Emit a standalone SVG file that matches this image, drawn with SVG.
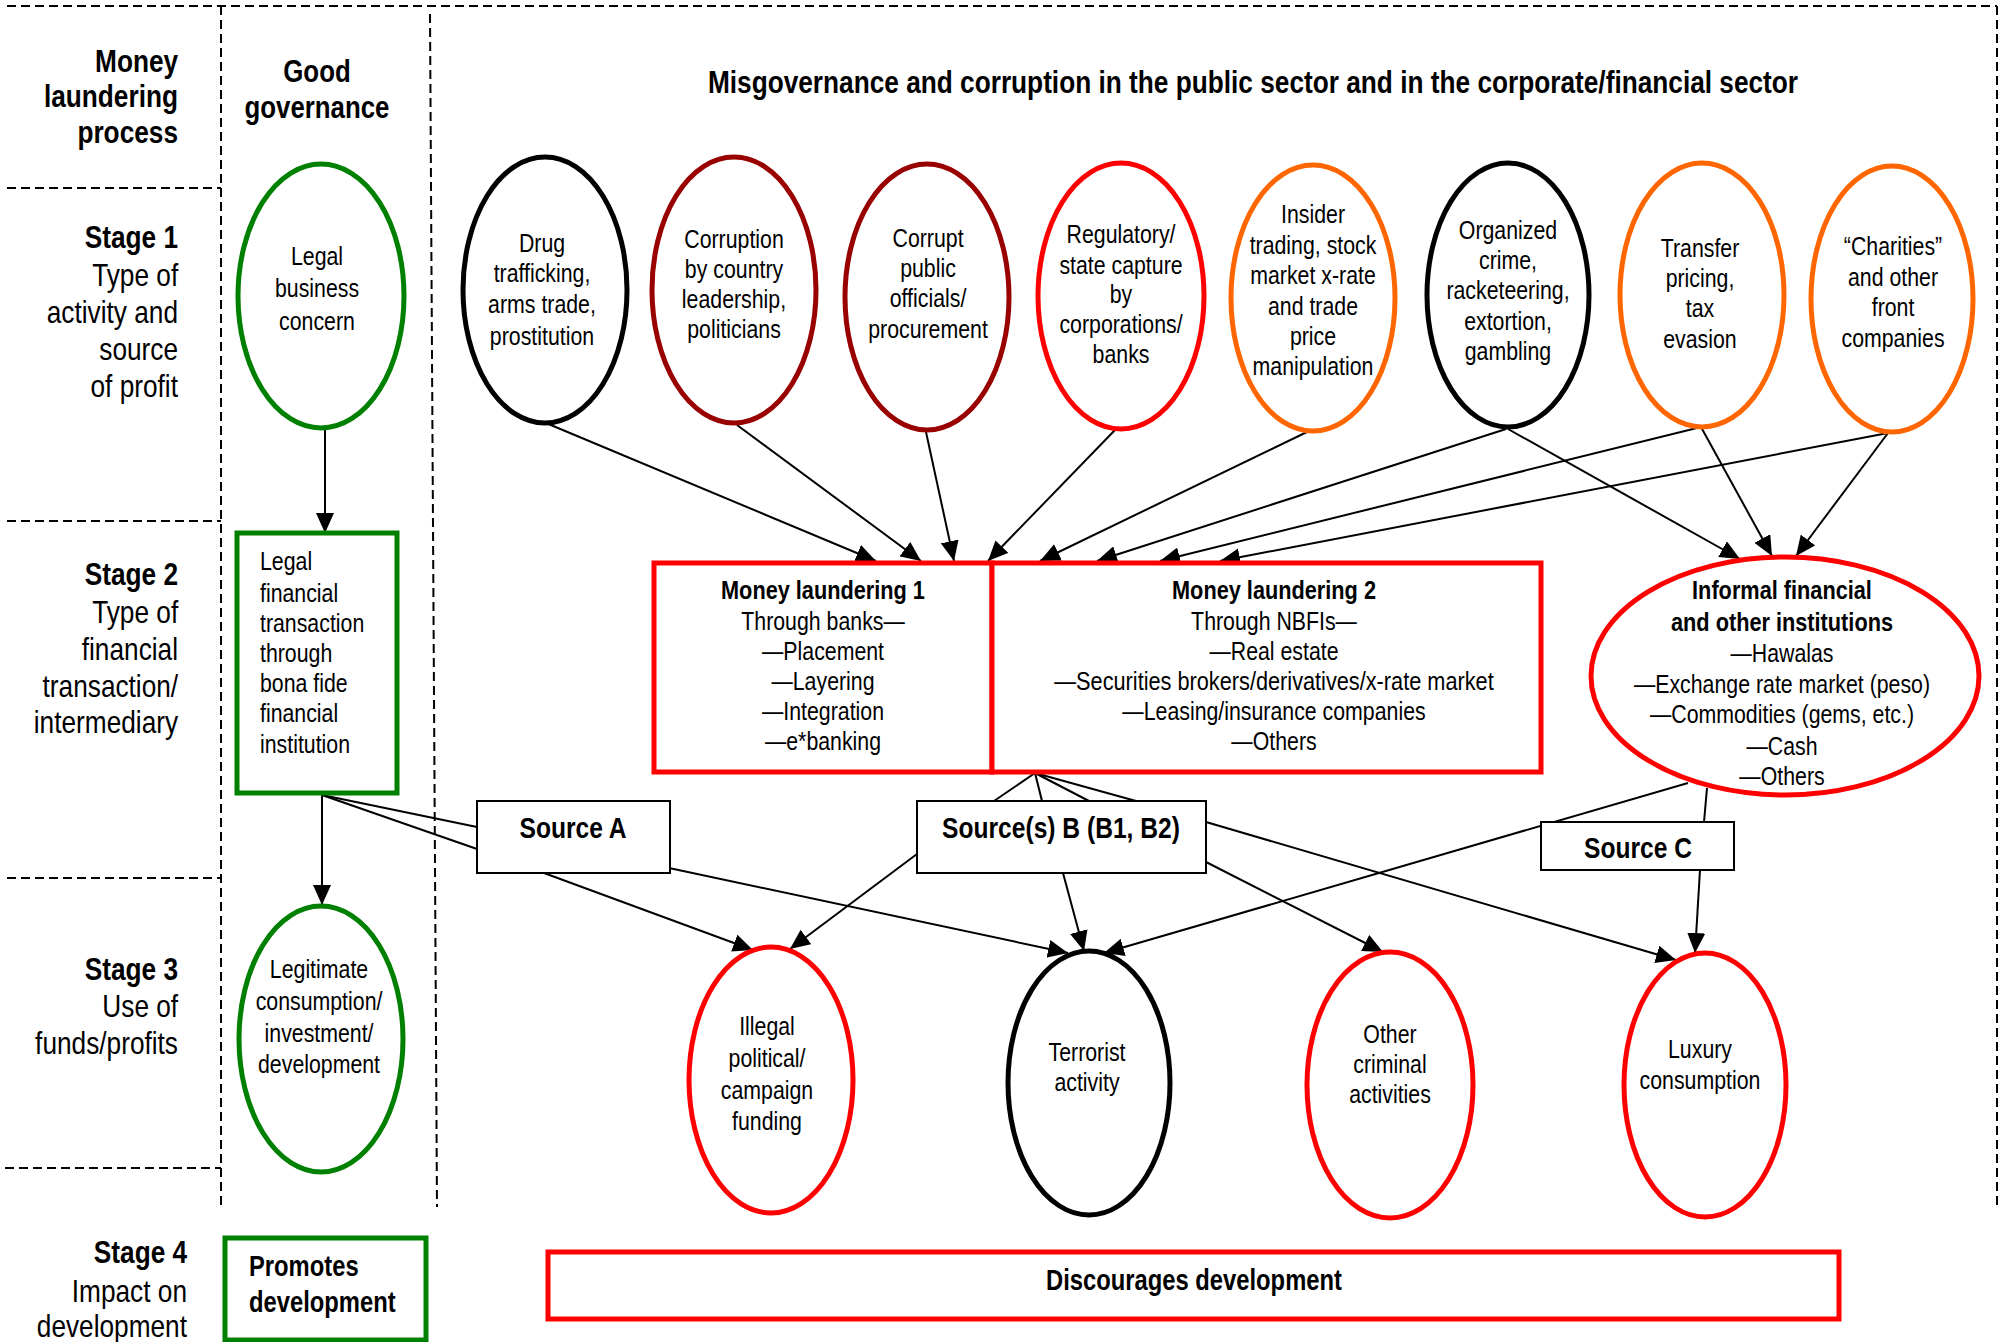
<svg xmlns="http://www.w3.org/2000/svg" width="2007" height="1342" viewBox="0 0 2007 1342">
<defs>
<marker id="arr" markerUnits="userSpaceOnUse" markerWidth="20" markerHeight="18" refX="20" refY="9" orient="auto">
<path d="M0,0 L20,9 L0,18 z" fill="#000"/>
</marker>
<style>
text{font-family:"Liberation Sans",Arial,sans-serif;fill:#000;transform-box:fill-box;transform:scaleX(0.82);transform-origin:left center}
.t{font-size:26px}
.b{font-size:26.5px;font-weight:bold}
.s{font-size:30px;font-weight:bold}
.h{font-size:31.5px;font-weight:bold}
.hl{font-size:32px;font-weight:bold}
.hr{font-size:32px}
.end{text-anchor:end;transform-origin:right center}
.mid{text-anchor:middle;transform-origin:center center}
.dash{stroke:#000;stroke-width:2;stroke-dasharray:9 5;fill:none}
.con{stroke:#000;stroke-width:2;fill:none}
.arrow{stroke:#000;stroke-width:2;fill:none;marker-end:url(#arr)}
.green{stroke:#008000;stroke-width:5;fill:#fff}
.black{stroke:#000;stroke-width:5;fill:#fff}
.dred{stroke:#990000;stroke-width:5;fill:#fff}
.red{stroke:#FF0000;stroke-width:5;fill:#fff}
.orange{stroke:#FF6600;stroke-width:5;fill:#fff}
.src{stroke:#000;stroke-width:2;fill:#fff}
</style>
</defs>
<rect width="2007" height="1342" fill="#fff"/>

<g id="grid">
<line class="dash" x1="7" y1="6" x2="1997" y2="6"/>
<line class="dash" x1="1997" y1="6" x2="1997" y2="1207"/>
<line class="dash" x1="221" y1="6" x2="221" y2="1207"/>
<line class="dash" x1="430" y1="14" x2="437" y2="1207"/>
<line class="dash" x1="7" y1="188" x2="221" y2="188"/>
<line class="dash" x1="7" y1="521" x2="221" y2="521"/>
<line class="dash" x1="7" y1="878" x2="221" y2="878"/>
<line class="dash" x1="5" y1="1168" x2="221" y2="1168"/>
</g>

<g id="headers">
<text class="hl end" x="178" y="72">Money</text>
<text class="hl end" x="178" y="107">laundering</text>
<text class="hl end" x="178" y="143">process</text>
<text class="h mid" x="317" y="82">Good</text>
<text class="h mid" x="317" y="118">governance</text>
<text class="h mid" x="1253" y="93" style="font-size:32px">Misgovernance and corruption in the public sector and in the corporate/financial sector</text>
</g>

<g id="stage1-label">
<text class="hl end" x="178" y="248">Stage 1</text>
<text class="hr end" x="178" y="286">Type of</text>
<text class="hr end" x="178" y="323">activity and</text>
<text class="hr end" x="178" y="360">source</text>
<text class="hr end" x="178" y="397">of profit</text>
</g>
<g id="stage2-label">
<text class="hl end" x="178" y="585">Stage 2</text>
<text class="hr end" x="178" y="623">Type of</text>
<text class="hr end" x="178" y="660">financial</text>
<text class="hr end" x="178" y="697">transaction/</text>
<text class="hr end" x="178" y="733">intermediary</text>
</g>
<g id="stage3-label">
<text class="hl end" x="178" y="980">Stage 3</text>
<text class="hr end" x="178" y="1017">Use of</text>
<text class="hr end" x="178" y="1054">funds/profits</text>
</g>
<g id="stage4-label">
<text class="hl end" x="187" y="1263">Stage 4</text>
<text class="hr end" x="187" y="1302">Impact on</text>
<text class="hr end" x="187" y="1337">development</text>
</g>

<g id="connectors">
<line class="arrow" x1="325" y1="428" x2="325" y2="533"/>
<line class="arrow" x1="322" y1="795" x2="322" y2="905"/>
<line class="con" x1="322" y1="795" x2="477" y2="827"/>
<line class="con" x1="322" y1="795" x2="477" y2="849"/>
<line class="arrow" x1="546" y1="423" x2="876" y2="561"/>
<line class="arrow" x1="737" y1="425" x2="921" y2="561"/>
<line class="arrow" x1="926" y1="432" x2="954" y2="561"/>
<line class="arrow" x1="1115" y1="430" x2="988" y2="561"/>
<line class="arrow" x1="1309" y1="431" x2="1040" y2="561"/>
<line class="arrow" x1="1506" y1="429" x2="1097" y2="561"/>
<line class="arrow" x1="1701" y1="427" x2="1160" y2="561"/>
<line class="arrow" x1="1888" y1="433" x2="1220" y2="561"/>
<line class="arrow" x1="1508" y1="429" x2="1740" y2="559"/>
<line class="arrow" x1="1701" y1="427" x2="1772" y2="556"/>
<line class="arrow" x1="1888" y1="433" x2="1796" y2="556"/>
<line class="con" x1="1035" y1="773" x2="994" y2="801"/>
<line class="con" x1="1035" y1="773" x2="1042" y2="801"/>
<line class="con" x1="1035" y1="773" x2="1089" y2="801"/>
<line class="con" x1="1035" y1="773" x2="1136" y2="801"/>
<line class="arrow" x1="544" y1="873" x2="753" y2="950"/>
<line class="arrow" x1="669" y1="868" x2="1068" y2="953"/>
<line class="arrow" x1="917" y1="854" x2="790" y2="949"/>
<line class="arrow" x1="1063" y1="873" x2="1084" y2="951"/>
<line class="arrow" x1="1206" y1="862" x2="1383" y2="952"/>
<line class="arrow" x1="1206" y1="822" x2="1676" y2="960"/>
<line class="arrow" x1="1688" y1="783" x2="1104" y2="953"/>
<line class="con" x1="1707" y1="788" x2="1704" y2="822"/>
<line class="arrow" x1="1700" y1="870" x2="1695" y2="953"/>
</g>

<g id="legal-business">
<ellipse class="green" cx="321" cy="296" rx="83" ry="132"/>
<text class="t mid" x="317" y="265">Legal</text>
<text class="t mid" x="317" y="297">business</text>
<text class="t mid" x="317" y="330">concern</text>
</g>
<g id="drug">
<ellipse class="black" cx="545" cy="290" rx="82" ry="133"/>
<text class="t mid" x="542" y="252">Drug</text>
<text class="t mid" x="542" y="282">trafficking,</text>
<text class="t mid" x="542" y="313">arms trade,</text>
<text class="t mid" x="542" y="345">prostitution</text>
</g>
<g id="corruption-leadership">
<ellipse class="dred" cx="734" cy="290" rx="82" ry="133"/>
<text class="t mid" x="734" y="248">Corruption</text>
<text class="t mid" x="734" y="278">by country</text>
<text class="t mid" x="734" y="308">leadership,</text>
<text class="t mid" x="734" y="338">politicians</text>
</g>
<g id="corrupt-officials">
<ellipse class="dred" cx="927" cy="297" rx="82" ry="133"/>
<text class="t mid" x="928" y="247">Corrupt</text>
<text class="t mid" x="928" y="277">public</text>
<text class="t mid" x="928" y="307">officials/</text>
<text class="t mid" x="928" y="338">procurement</text>
</g>
<g id="regulatory-capture">
<ellipse class="red" cx="1121" cy="296" rx="83" ry="133"/>
<text class="t mid" x="1121" y="243">Regulatory/</text>
<text class="t mid" x="1121" y="274">state capture</text>
<text class="t mid" x="1121" y="303">by</text>
<text class="t mid" x="1121" y="333">corporations/</text>
<text class="t mid" x="1121" y="363">banks</text>
</g>
<g id="insider-trading">
<ellipse class="orange" cx="1313" cy="298" rx="82" ry="133"/>
<text class="t mid" x="1313" y="223">Insider</text>
<text class="t mid" x="1313" y="254">trading, stock</text>
<text class="t mid" x="1313" y="284">market x-rate</text>
<text class="t mid" x="1313" y="315">and trade</text>
<text class="t mid" x="1313" y="345">price</text>
<text class="t mid" x="1313" y="375">manipulation</text>
</g>
<g id="organized-crime">
<ellipse class="black" cx="1508" cy="295" rx="81" ry="132"/>
<text class="t mid" x="1508" y="239">Organized</text>
<text class="t mid" x="1508" y="269">crime,</text>
<text class="t mid" x="1508" y="299">racketeering,</text>
<text class="t mid" x="1508" y="330">extortion,</text>
<text class="t mid" x="1508" y="360">gambling</text>
</g>
<g id="transfer-pricing">
<ellipse class="orange" cx="1702" cy="295" rx="82" ry="132"/>
<text class="t mid" x="1700" y="257">Transfer</text>
<text class="t mid" x="1700" y="287">pricing,</text>
<text class="t mid" x="1700" y="317">tax</text>
<text class="t mid" x="1700" y="348">evasion</text>
</g>
<g id="charities">
<ellipse class="orange" cx="1892" cy="299" rx="81" ry="133"/>
<text class="t mid" x="1893" y="255">“Charities”</text>
<text class="t mid" x="1893" y="286">and other</text>
<text class="t mid" x="1893" y="316">front</text>
<text class="t mid" x="1893" y="347">companies</text>
</g>

<g id="legal-financial">
<rect class="green" x="237" y="533" width="160" height="260"/>
<text class="t" x="260" y="570">Legal</text>
<text class="t" x="260" y="602">financial</text>
<text class="t" x="260" y="632">transaction</text>
<text class="t" x="260" y="662">through</text>
<text class="t" x="260" y="692">bona fide</text>
<text class="t" x="260" y="722">financial</text>
<text class="t" x="260" y="753">institution</text>
</g>
<g id="money-laundering-1">
<rect class="red" x="654" y="563" width="338" height="209"/>
<text class="b mid" x="823" y="599">Money laundering 1</text>
<text class="t mid" x="823" y="630">Through banks—</text>
<text class="t mid" x="823" y="660">—Placement</text>
<text class="t mid" x="823" y="690">—Layering</text>
<text class="t mid" x="823" y="720">—Integration</text>
<text class="t mid" x="823" y="750">—e*banking</text>
</g>
<g id="money-laundering-2">
<rect class="red" x="992" y="563" width="549" height="209"/>
<text class="b mid" x="1274" y="599">Money laundering 2</text>
<text class="t mid" x="1274" y="630">Through NBFIs—</text>
<text class="t mid" x="1274" y="660">—Real estate</text>
<text class="t mid" x="1274" y="690" style="font-size:26.5px">—Securities brokers/derivatives/x-rate market</text>
<text class="t mid" x="1274" y="720">—Leasing/insurance companies</text>
<text class="t mid" x="1274" y="750">—Others</text>
</g>
<g id="informal-financial">
<ellipse class="red" cx="1785" cy="676" rx="194" ry="119"/>
<text class="b mid" x="1782" y="599">Informal financial</text>
<text class="b mid" x="1782" y="631">and other institutions</text>
<text class="t mid" x="1782" y="662">—Hawalas</text>
<text class="t mid" x="1782" y="693">—Exchange rate market (peso)</text>
<text class="t mid" x="1782" y="723">—Commodities (gems, etc.)</text>
<text class="t mid" x="1782" y="755">—Cash</text>
<text class="t mid" x="1782" y="785">—Others</text>
</g>

<g id="source-a">
<rect class="src" x="477" y="801" width="193" height="72"/>
<text class="s mid" x="573" y="838">Source A</text>
</g>
<g id="source-b">
<rect class="src" x="917" y="801" width="289" height="72"/>
<text class="s mid" x="1061" y="838">Source(s) B (B1, B2)</text>
</g>
<g id="source-c">
<rect class="src" x="1541" y="822" width="193" height="48"/>
<text class="s mid" x="1638" y="858">Source C</text>
</g>

<g id="legitimate">
<ellipse class="green" cx="321" cy="1039" rx="82" ry="133"/>
<text class="t mid" x="319" y="978">Legitimate</text>
<text class="t mid" x="319" y="1010">consumption/</text>
<text class="t mid" x="319" y="1042">investment/</text>
<text class="t mid" x="319" y="1073">development</text>
</g>
<g id="illegal-political">
<ellipse class="red" cx="771" cy="1080" rx="82" ry="133"/>
<text class="t mid" x="767" y="1035">Illegal</text>
<text class="t mid" x="767" y="1067">political/</text>
<text class="t mid" x="767" y="1099">campaign</text>
<text class="t mid" x="767" y="1130">funding</text>
</g>
<g id="terrorist">
<ellipse class="black" cx="1089" cy="1083" rx="81" ry="132"/>
<text class="t mid" x="1087" y="1061">Terrorist</text>
<text class="t mid" x="1087" y="1091">activity</text>
</g>
<g id="other-criminal">
<ellipse class="red" cx="1390" cy="1085" rx="83" ry="133"/>
<text class="t mid" x="1390" y="1043">Other</text>
<text class="t mid" x="1390" y="1073">criminal</text>
<text class="t mid" x="1390" y="1103">activities</text>
</g>
<g id="luxury">
<ellipse class="red" cx="1705" cy="1085" rx="81" ry="132"/>
<text class="t mid" x="1700" y="1058">Luxury</text>
<text class="t mid" x="1700" y="1089">consumption</text>
</g>

<g id="promotes">
<rect class="green" x="225" y="1238" width="201" height="102"/>
<text class="s" x="249" y="1276" style="font-size:29px">Promotes</text>
<text class="s" x="249" y="1312" style="font-size:29px">development</text>
</g>
<g id="discourages">
<rect class="red" x="548" y="1252" width="1291" height="67"/>
<text class="s mid" x="1194" y="1290" style="font-size:29px">Discourages development</text>
</g>
</svg>
